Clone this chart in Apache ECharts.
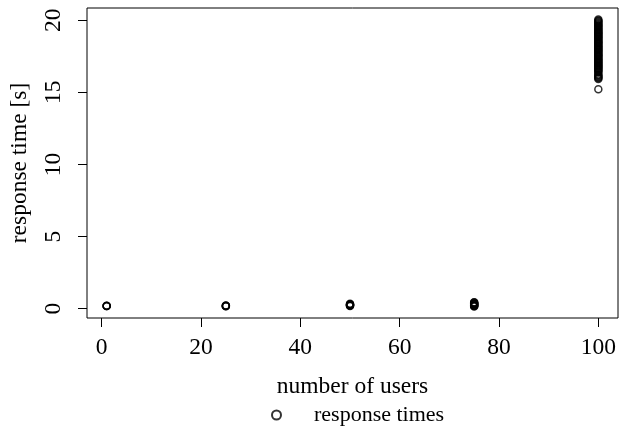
<!DOCTYPE html>
<html>
<head>
<meta charset="utf-8">
<script src="https://cdn.jsdelivr.net/npm/echarts@6/dist/echarts.min.js"></script>
<style>
  html, body { margin: 0; padding: 0; background: #fff; }
  #chart { width: 620px; height: 432px; }
</style>
</head>
<body>
<div id="chart"></div>
<script>
// Measured response times per load level (number of concurrent users)
const users1 = [0.18, 0.19, 0.20, 0.19];
const users25 = [0.17, 0.19, 0.20, 0.21, 0.18];
const users50 = [0.19, 0.22, 0.25, 0.28, 0.31, 0.34, 0.21, 0.27];
const users75 = [0.14, 0.18, 0.22, 0.26, 0.30, 0.34, 0.38, 0.42, 0.45, 0.20, 0.33];
const users100 = [
  15.22, 15.93, 16.00, 16.05, 16.12, 16.18, 16.24, 16.38, 16.45, 16.52,
  16.58, 16.63, 16.70, 16.76, 16.82, 16.87, 16.93, 17.00, 17.06, 17.11,
  17.17, 17.24, 17.30, 17.35, 17.41, 17.48, 17.54, 17.59, 17.65, 17.72,
  17.78, 17.83, 17.90, 17.96, 18.01, 18.07, 18.14, 18.20, 18.25, 18.31,
  18.38, 18.44, 18.49, 18.55, 18.62, 18.68, 18.73, 18.80, 18.86, 18.91,
  18.97, 19.04, 19.10, 19.15, 19.21, 19.28, 19.34, 19.40, 19.47, 19.53,
  19.60, 19.66, 19.73, 19.80, 19.86, 19.93, 19.98, 20.05
];
const groups = [[1, users1], [25, users25], [50, users50], [75, users75], [100, users100]];

// Tick ranges shown on the axes: [first, last, step]
const xTickRange = [0, 100, 20];
const yTickRange = [0, 20, 5];

const points = [];
groups.forEach(([u, vals]) => vals.forEach(v => points.push([u, v])));

const font = '"Liberation Serif", "Times New Roman", serif';
const fs = 23.5;
const W = 620, H = 432;

// Plot box in pixels and its padded data range (4% on each side)
const box = { left: 87, right: 618, top: 8, bottom: 318 };
const xr = [-2.96, 103.96];
const yr = [-0.65, 20.85];
const kx = (box.right - box.left) / (xr[1] - xr[0]);
const ky = (box.bottom - box.top) / (yr[1] - yr[0]);
const px = v => box.left + (v - xr[0]) * kx;
const py = v => box.bottom - (v - yr[0]) * ky;

// Helper grids: one whose left edge is the box edge and whose height is the
// y tick range, one whose bottom edge is the box edge and whose width is the
// x tick range. Their axes carry the ticks and tick labels.
const yTickGrid = { left: box.left, right: W - box.right, top: py(yTickRange[1]), bottom: H - py(yTickRange[0]) };
const xTickGrid = { left: px(xTickRange[0]), right: W - px(xTickRange[1]), top: box.top, bottom: H - box.bottom };

const hiddenAxis = (grid, min, max) => ({
  gridIndex: grid, type: 'value', min: min, max: max,
  axisLine: { show: false }, axisTick: { show: false }, axisLabel: { show: false }, splitLine: { show: false }
});

const chart = echarts.init(document.getElementById('chart'), null, { renderer: 'canvas' });

chart.setOption({
  animation: false,
  backgroundColor: '#ffffff',
  grid: [
    {
      left: box.left, right: W - box.right, top: box.top, bottom: H - box.bottom,
      show: true, borderColor: '#000', borderWidth: 1, backgroundColor: 'transparent'
    },
    Object.assign({ show: false }, yTickGrid),
    Object.assign({ show: false }, xTickGrid)
  ],
  xAxis: [
    Object.assign(hiddenAxis(0, xr[0], xr[1]), {
      name: 'number of users', nameLocation: 'middle', nameGap: 57,
      nameTextStyle: { fontFamily: font, fontSize: fs, color: '#000' }
    }),
    hiddenAxis(1, 0, 1),
    {
      gridIndex: 2, type: 'value', min: xTickRange[0], max: xTickRange[1], interval: xTickRange[2],
      axisLine: { show: false },
      splitLine: { show: false },
      axisTick: { show: true, length: 9, lineStyle: { color: '#000', width: 1 } },
      axisLabel: { fontFamily: font, fontSize: fs, color: '#000', margin: 18 }
    }
  ],
  yAxis: [
    Object.assign(hiddenAxis(0, yr[0], yr[1]), {
      name: 'response time [s]', nameLocation: 'middle', nameGap: 55, nameRotate: 90,
      nameTextStyle: { fontFamily: font, fontSize: fs, color: '#000' }
    }),
    {
      gridIndex: 1, type: 'value', min: yTickRange[0], max: yTickRange[1], interval: yTickRange[2],
      axisLine: { show: false },
      splitLine: { show: false },
      axisTick: { show: true, length: 9, lineStyle: { color: '#000', width: 1 } },
      axisLabel: { rotate: 90, fontFamily: font, fontSize: fs, color: '#000', margin: 21 }
    },
    hiddenAxis(2, 0, 1)
  ],
  legend: {
    top: 399, left: 266,
    icon: 'circle',
    itemWidth: 9, itemHeight: 9,
    textStyle: { fontFamily: font, fontSize: 22, color: '#000', padding: [0, 0, 0, 28] },
    itemStyle: { color: '#fff', borderColor: '#000', borderWidth: 2 },
    data: ['response times']
  },
  series: [{
    name: 'response times',
    type: 'scatter',
    xAxisIndex: 0, yAxisIndex: 0,
    symbol: 'circle',
    symbolSize: 7,
    itemStyle: { color: 'rgba(0,0,0,0)', borderColor: '#000', borderWidth: 1.5 },
    data: points
  }]
});
</script>
</body>
</html>
